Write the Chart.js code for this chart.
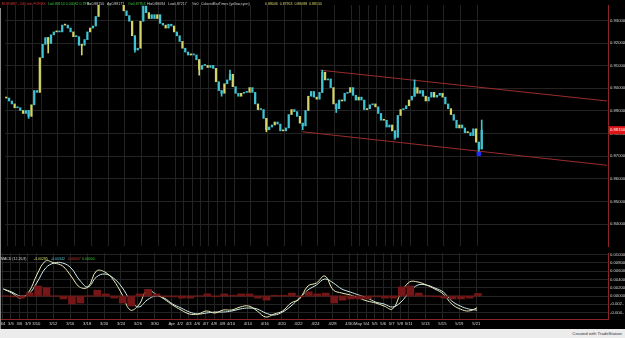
<!DOCTYPE html>
<html>
<head>
<meta charset="utf-8">
<script src="https://cdn.jsdelivr.net/npm/chart.js@4/dist/chart.umd.min.js"></script>
<style>
html, body { margin: 0; padding: 0; width: 625px; height: 338px; overflow: hidden; background: #ececec; font-family: "Liberation Sans", Arial, sans-serif; }
#board { position: absolute; left: 0; top: 0; width: 625px; height: 329px; background: #000; }
#priceBox { position: absolute; left: 0; top: 0; width: 625px; height: 251px; }
#macdBox { position: absolute; left: 0; top: 253px; width: 625px; height: 76px; }
#leftEdge { position: absolute; left: 0; top: 8px; width: 1px; height: 321px; background: #8a8a8a; }
.t { position: absolute; font-size: 4.3px; line-height: 6px; white-space: nowrap; transform: scaleX(0.82); transform-origin: 0 0; }
#credit { position: absolute; right: 3px; top: 331px; font-size: 4.3px; color: #333; }
</style>
</head>
<body>
<div id="board">
  <div id="priceBox"><canvas id="priceChart"></canvas></div>
  <div id="macdBox"><canvas id="macdChart"></canvas></div>
  <div id="leftEdge"></div>

  <span class="t" style="left:2px;top:1px;color:#e03434">EURGBP - 240 min FOREX</span>
  <span class="t" style="left:48px;top:1px;color:#3cc43c">L=0.88150 0.00082 0.79%</span>
  <span class="t" style="left:87px;top:1px;color:#cfcfcf">B=0.88150</span>
  <span class="t" style="left:107px;top:1px;color:#cfcfcf">A=0.88177</span>
  <span class="t" style="left:128px;top:1px;color:#3cc43c">O=0.87953</span>
  <span class="t" style="left:147px;top:1px;color:#cfcfcf">Hi=0.88094</span>
  <span class="t" style="left:168px;top:1px;color:#cfcfcf">Lo=0.87217</span>
  <span class="t" style="left:192px;top:1px;color:#cfcfcf">V=0</span>
  <span class="t" style="left:201px;top:1px;color:#cfcfcf">ColoredBarTimes (yellow,cyan)</span>
  <span class="t" style="left:265px;top:1px;color:#d8d870">0.88046 &nbsp;0.87953 &nbsp;0.88088 &nbsp;0.88150</span>

  <span class="t" style="left:1px;top:256px;color:#d8d8d8">MACD (12,26,9)</span>
  <span class="t" style="left:34px;top:256px;color:#d8d870">-0.00285</span>
  <span class="t" style="left:51px;top:256px;color:#50c8d8">-0.00342</span>
  <span class="t" style="left:68px;top:256px;color:#e03434">0.00057</span>
  <span class="t" style="left:82px;top:256px;color:#3cc43c">0.00000</span>
</div>
<div id="credit">Created with TradeStation</div>

<script>
// trading days on the chart (3 bars of price data per day)
const days = ['3/4','3/5','3/6','3/9','3/10','3/11','3/12','3/13','3/16','3/17','3/18','3/19','3/20','3/23','3/24','3/25','3/26','3/27','3/30','3/31',
    'Apr','4/2','4/3','4/6','4/7','4/8','4/9','4/10','4/13','4/14','4/15','4/16','4/17','4/20','4/21','4/22','4/23','4/24','4/27','4/28','4/29','4/30',
    'May','5/4','5/5','5/6','5/7','5/8','5/11','5/12','5/13','5/14','5/15','5/18','5/19','5/20','5/21'];

// days that get a label on the time axis
const tickDays = ['3/4','3/5','3/6','3/9','3/10','3/12','3/16','3/18','3/20','3/24','3/26','3/30','Apr','4/2','4/3','4/6','4/7','4/8','4/9','4/10',
    '4/14','4/16','4/20','4/22','4/24','4/28','4/30','May','5/4','5/5','5/6','5/7','5/8','5/11','5/13','5/15','5/19','5/21'];

const barsPerDay = 3;

// EURGBP closes, 3 per day
const closes = [
    0.8957, 0.8944, 0.8931,  0.8914, 0.8914, 0.8902,  0.8889, 0.8902, 0.8876,  0.8927, 0.8990, 0.8982,
    0.9135, 0.9194, 0.9224,  0.9198, 0.9236, 0.9249,  0.9253, 0.9249, 0.9279,  0.9279, 0.9266, 0.9249,
    0.9228, 0.9228, 0.9190,  0.9190, 0.9215, 0.9249,  0.9266, 0.9275, 0.9317,  0.9376, 0.9402, 0.9419,
    0.9431, 0.9427, 0.9444,  0.9419, 0.9402, 0.9385,  0.9342, 0.9321, 0.9296,  0.9232, 0.9169, 0.9177,
    0.9296, 0.9363, 0.9334,  0.9308, 0.9325, 0.9308,  0.9325, 0.9287, 0.9279,  0.9266, 0.9283, 0.9275,
    0.9249, 0.9232, 0.9207,  0.9177, 0.9160, 0.9147,  0.9152, 0.9147, 0.9126,  0.9084, 0.9101, 0.9101,
    0.9092, 0.9101, 0.9088,  0.9029, 0.8990, 0.8978,  0.9020, 0.9037, 0.9062,  0.9007, 0.8978, 0.8965,
    0.8978, 0.8982, 0.8982,  0.9003, 0.8982, 0.8931,  0.8906, 0.8906, 0.8867,  0.8817, 0.8829, 0.8838,
    0.8851, 0.8842, 0.8812,  0.8812, 0.8825, 0.8884,  0.8906, 0.8897, 0.8876,  0.8846, 0.8834, 0.8902,
    0.8965, 0.8986, 0.8961,  0.8952, 0.8982, 0.9071,  0.9037, 0.9041, 0.9003,  0.8931, 0.8910, 0.8948,
    0.8944, 0.8978, 0.8982,  0.9003, 0.8969, 0.8948,  0.8961, 0.8948, 0.8906,  0.8910, 0.8927, 0.8931,
    0.8918, 0.8889, 0.8859,  0.8859, 0.8829, 0.8838,  0.8812, 0.8783, 0.8880,  0.8906, 0.8910, 0.8923,
    0.8948, 0.8965, 0.9003,  0.8978, 0.8990, 0.8965,  0.8944, 0.8961, 0.8982,  0.8961, 0.8969, 0.8978,
    0.8961, 0.8931, 0.8910,  0.8884, 0.8859, 0.8825,  0.8838, 0.8825, 0.8804,  0.8804, 0.8791, 0.8821,
    0.8762, 0.8732, 0.8815
];

// the longer wicks that stand out: [bar index, low, high]
const wicks = [
    [8, 0.8867, 0.8902], [15, 0.9156, 0.9224], [27, 0.9147, 0.9190], [46, 0.9160, 0.9232],
    [69, 0.9058, 0.9126], [77, 0.8965, 0.8990], [80, 0.9037, 0.9080], [93, 0.8808, 0.8867],
    [106, 0.8817, 0.8846], [113, 0.8982, 0.9080], [118, 0.8893, 0.8931], [139, 0.8775, 0.8812],
    [146, 0.8965, 0.9037], [169, 0.8722, 0.8762], [170, 0.8732, 0.8860]
];

// ColoredBarTimes: colour by bar time within the day
const slotColors = ['#d4d468', '#40c4d4', '#40c4d4'];

// drawn channel (day position, price)
const upperChannel = [[37.44, 0.9080], [71.6, 0.8944]];
const lowerChannel = [[35.31, 0.8808], [71.6, 0.8660]];
const lowMarker = [[56.33, 0.8711]];

// MACD (12,26,9), one value per day
const macd = [
    0.00169, 0.00072, -0.00048, 0.00096, 0.00530, 0.00843, 0.00795, 0.00723, 0.00482, 0.00217,
    0.00217, 0.00602, 0.00578, 0.00386, 0.00048, -0.00337, -0.00217, 0.00145, 0.00048, -0.00072,
    -0.00217, -0.00337, -0.00434, -0.00434, -0.00361, -0.00410, -0.00337, -0.00337, -0.00265, -0.00241,
    -0.00361, -0.00506, -0.00434, -0.00361, -0.00169, -0.00072, 0.00241, 0.00313, 0.00482, 0.00145,
    0.00072, 0.00024, -0.00048, -0.00120, -0.00169, -0.00241, -0.00313, 0.00072, 0.00337, 0.00337,
    0.00265, 0.00169, 0.00048, -0.00193, -0.00313, -0.00361, -0.00285
];
const signal = [
    0.00169, 0.00096, 0.00000, 0.00048, 0.00337, 0.00675, 0.00795, 0.00795, 0.00675, 0.00386,
    0.00217, 0.00458, 0.00530, 0.00434, 0.00217, -0.00096, -0.00265, -0.00096, 0.00000, -0.00048,
    -0.00193, -0.00289, -0.00386, -0.00434, -0.00410, -0.00386, -0.00386, -0.00361, -0.00313, -0.00289,
    -0.00313, -0.00410, -0.00458, -0.00386, -0.00241, -0.00048, 0.00145, 0.00265, 0.00410, 0.00313,
    0.00169, 0.00096, 0.00024, -0.00048, -0.00145, -0.00193, -0.00265, -0.00145, 0.00096, 0.00265,
    0.00265, 0.00193, 0.00096, -0.00120, -0.00241, -0.00313, -0.00342
];
const hist = [
    0.0000, -0.0002, -0.0005, 0.0008, 0.0024, 0.0020, 0.0000, -0.0007, -0.0019, -0.0017,
    0.0000, 0.0014, 0.0005, -0.0005, -0.0017, -0.0024, 0.0005, 0.0016, 0.0005, -0.0002,
    -0.0002, -0.0005, -0.0005, 0.0000, 0.0005, -0.0002, 0.0005, 0.0002, 0.0005, 0.0005,
    -0.0005, -0.0010, 0.0002, 0.0002, 0.0007, -0.0002, 0.0010, 0.0005, 0.0007, -0.0017,
    -0.0010, -0.0007, -0.0007, -0.0007, -0.0002, -0.0005, -0.0005, 0.0022, 0.0024, 0.0007,
    0.0000, -0.0002, -0.0005, -0.0007, -0.0007, -0.0005, 0.0006
];

const gridColor = '#232323';
const axisRed = '#8c2424';
const tickFont = { family: 'Liberation Sans', size: 4.2 };
const dayOffset = 0.15;

const timeAxis = (showLabels) => ({
    type: 'linear',
    min: -0.15,
    max: 71.72,
    offset: false,
    afterBuildTicks: s => { s.ticks = tickDays.map(t => ({ value: days.indexOf(t) + dayOffset })); },
    afterFit: s => { s.height = showLabels ? 10 : 0; s.paddingLeft = 0; s.paddingRight = 0; },
    ticks: {
        display: showLabels,
        autoSkip: false,
        maxRotation: 0,
        padding: 2,
        color: '#d6d6d6',
        font: tickFont,
        callback: (v, i) => tickDays[i]
    },
    grid: { color: gridColor, drawTicks: false, offset: false },
    border: { display: showLabels, color: axisRed }
});

const priceAxis = (min, max, step, fmt) => ({
    position: 'right',
    min: min,
    max: max,
    afterFit: s => { s.width = 17; s.paddingTop = 0; s.paddingBottom = 0; },
    ticks: { stepSize: step, includeBounds: false, padding: 2, color: '#d6d6d6', font: tickFont, callback: fmt },
    grid: { color: gridColor, drawTicks: false },
    border: { color: axisRed }
});

// red box with the last price on the right axis
const lastPriceTag = {
    id: 'lastPriceTag',
    afterDraw(chart) {
        const last = closes[closes.length - 1];
        const y = chart.scales.y.getPixelForValue(last);
        const ctx = chart.ctx;
        ctx.save();
        ctx.fillStyle = '#e01414';
        ctx.fillRect(609, y - 4, 16, 8);
        ctx.fillStyle = '#ffffff';
        ctx.font = '4.2px "Liberation Sans"';
        ctx.textBaseline = 'middle';
        ctx.fillText(last.toFixed(5), 610, y);
        ctx.restore();
    }
};

// price panel
const priceBars = closes.map((c, i) => ({ x: i / barsPerDay, y: [i ? closes[i - 1] : c, c] }));

new Chart(document.getElementById('priceChart'), {
    type: 'bar',
    data: {
        datasets: [
            {
                data: priceBars,
                backgroundColor: closes.map((c, i) => slotColors[i % barsPerDay]),
                barThickness: 1.6,
                minBarLength: 1
            },
            {
                data: wicks.map(w => ({ x: w[0] / barsPerDay, y: [w[1], w[2]] })),
                backgroundColor: wicks.map(w => slotColors[w[0] % barsPerDay]),
                barThickness: 1,
                grouped: false
            },
            {
                type: 'line',
                data: upperChannel.map(p => ({ x: p[0], y: p[1] })),
                borderColor: '#9a2c2c',
                borderWidth: 1,
                pointRadius: 0
            },
            {
                type: 'line',
                data: lowerChannel.map(p => ({ x: p[0], y: p[1] })),
                borderColor: '#9a2c2c',
                borderWidth: 1,
                pointRadius: 0
            },
            {
                type: 'line',
                data: lowMarker.map(p => ({ x: p[0], y: p[1] })),
                showLine: false,
                pointStyle: 'rect',
                pointRadius: 2.5,
                backgroundColor: '#2030ff',
                borderColor: '#2030ff'
            }
        ]
    },
    options: {
        responsive: true,
        maintainAspectRatio: false,
        animation: false,
        layout: { padding: 0 },
        datasets: { bar: { grouped: false } },
        plugins: { legend: { display: false }, tooltip: { enabled: false } },
        scales: {
            x: timeAxis(false),
            y: priceAxis(0.83036, 0.93678, 0.01, v => v.toFixed(5))
        }
    },
    plugins: [lastPriceTag]
});

// MACD panel
const dayX = d => d + 0.25;

new Chart(document.getElementById('macdChart'), {
    type: 'bar',
    data: {
        datasets: [
            {
                data: hist.map((v, d) => ({ x: d + 0.35, y: v })),
                backgroundColor: '#761616',
                barThickness: 7
            },
            {
                type: 'line',
                data: [{ x: 0, y: 0 }, { x: days.length - 0.3, y: 0 }],
                borderColor: '#6a1c1c',
                borderWidth: 1,
                pointRadius: 0
            },
            {
                type: 'line',
                data: macd.map((v, d) => ({ x: dayX(d), y: v })),
                borderColor: '#eeeeb8',
                borderWidth: 1,
                pointRadius: 0,
                tension: 0.4
            },
            {
                type: 'line',
                data: signal.map((v, d) => ({ x: dayX(d), y: v })),
                borderColor: '#cdeeee',
                borderWidth: 1,
                pointRadius: 0,
                tension: 0.4
            }
        ]
    },
    options: {
        responsive: true,
        maintainAspectRatio: false,
        animation: false,
        layout: { padding: 0 },
        plugins: { legend: { display: false }, tooltip: { enabled: false } },
        scales: {
            x: timeAxis(true),
            y: priceAxis(-0.00554, 0.01036, 0.002, v => {
                const s = v.toFixed(5);
                return s.length > 7 ? s.slice(0, 6) + '..' : s;
            })
        }
    }
});
</script>
</body>
</html>
